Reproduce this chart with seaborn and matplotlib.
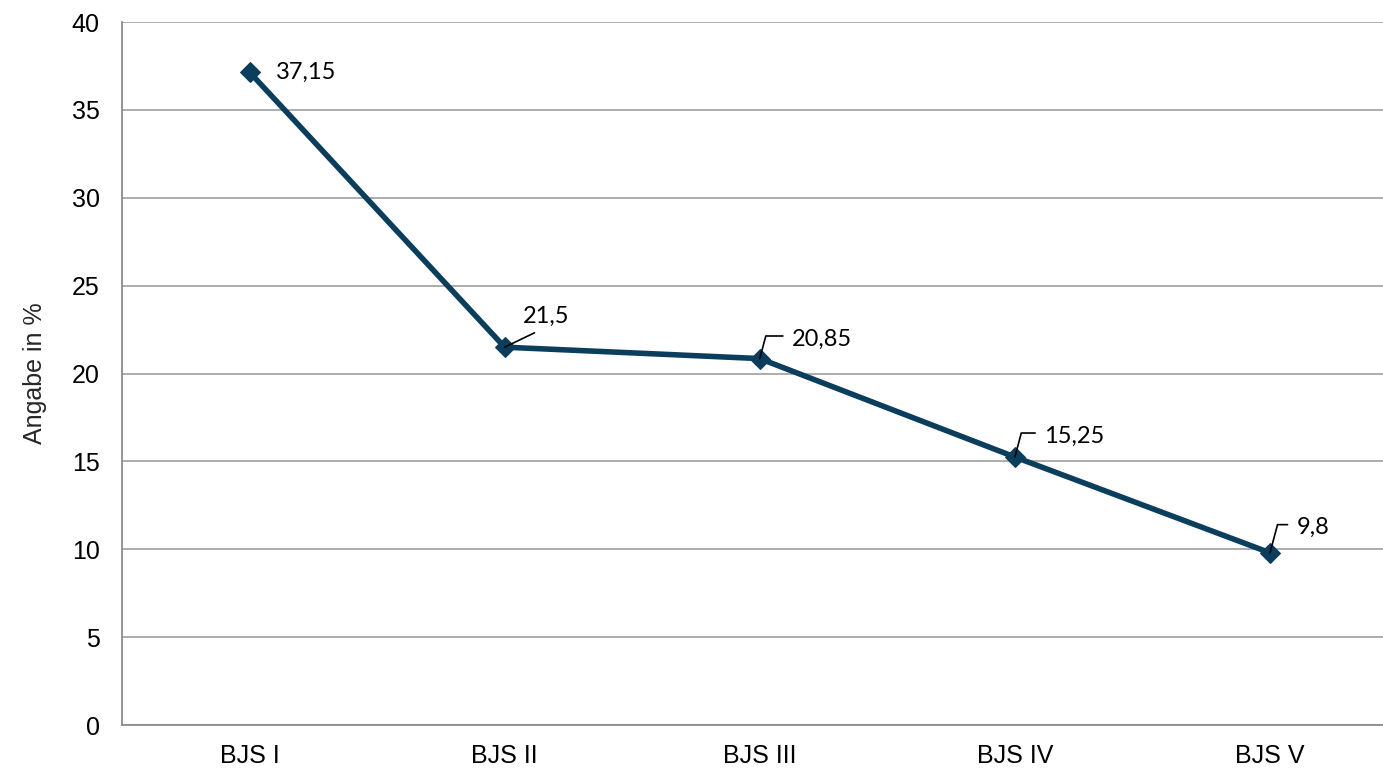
import matplotlib
matplotlib.use("Agg")
import matplotlib.pyplot as plt
import seaborn as sns
import pandas as pd

categories = ["BJS I", "BJS II", "BJS III", "BJS IV", "BJS V"]
values = [37.15, 21.5, 20.85, 15.25, 9.8]
value_labels = ["37,15", "21,5", "20,85", "15,25", "9,8"]
yticks = [0, 5, 10, 15, 20, 25, 30, 35, 40]

sns.set_theme(style="white")
plt.rcParams["font.family"] = ["Liberation Sans", "DejaVu Sans"]

df = pd.DataFrame({"cat": categories, "val": values})

fig = plt.figure(figsize=(13.83, 7.70), dpi=100)
ax = fig.add_axes([0.0882, 0.0584, 0.9118, 0.913])

color = "#0B3D5C"
sns.lineplot(data=df, x="cat", y="val", ax=ax, color=color, linewidth=4,
             marker="D", markersize=10, markeredgecolor=color, sort=False)

ax.set_xlim(-0.5, 4.443)
ax.set_ylim(0, 40)
ax.set_yticks(yticks)
ax.yaxis.grid(True, color="#A6A6A6", linewidth=1.3)
ax.xaxis.grid(False)
for s in ["top", "right"]:
    ax.spines[s].set_visible(False)
for s in ["left", "bottom"]:
    ax.spines[s].set_color("#8C8C8C")
    ax.spines[s].set_linewidth(1.3)
ax.tick_params(axis="both", length=0, labelsize=18, colors="black")
ax.tick_params(axis="y", pad=16)
ax.tick_params(axis="x", pad=14)
ax.set_xlabel("")
ax.set_ylabel("Angabe in %", fontsize=18, labelpad=18)

lab_font = dict(fontsize=17, family=["Lato", "DejaVu Sans"], color="black")
offsets = [(19, 0), (30, 22), (23, 14), (21, 15), (19, 18)]
for i, (v, t) in enumerate(zip(values, value_labels)):
    dx, dy = offsets[i]
    if i == 0:
        ax.annotate(t, (i, v), xytext=(dx, dy), textcoords="offset points",
                    ha="left", va="center", **lab_font)
    elif i == 1:
        ax.annotate(t, (i, v), xytext=(dx, dy), textcoords="offset points",
                    ha="center", va="center", **lab_font,
                    arrowprops=dict(arrowstyle="-", color="black", lw=1.2,
                                    relpos=(0.5, 0.0), shrinkA=4, shrinkB=0))
    else:
        ax.annotate(t, (i, v), xytext=(dx, dy), textcoords="offset points",
                    ha="left", va="center", **lab_font,
                    arrowprops=dict(arrowstyle="-", color="black", lw=1.2,
                                    relpos=(0.0, 0.65), shrinkA=4, shrinkB=0,
                                    connectionstyle="angle,angleA=180,angleB=75,rad=0"))

fig.savefig("out.png", dpi=100)
